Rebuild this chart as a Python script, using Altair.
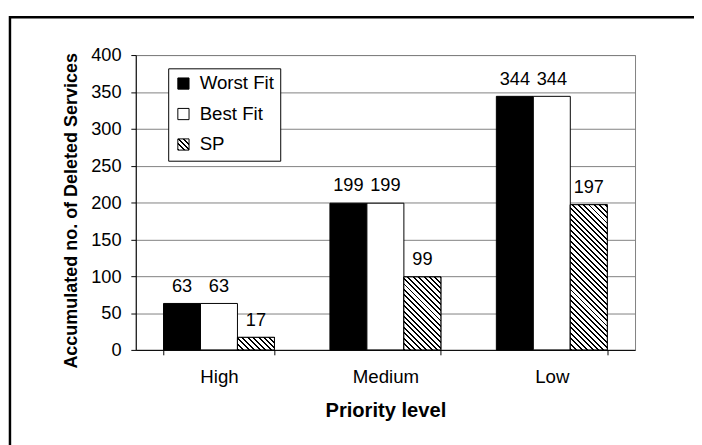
import json
import math
import altair as alt
import pandas as pd

# ---- data ----
categories = ["High", "Medium", "Low"]
series = ["Worst Fit", "Best Fit", "SP"]
worst_fit = [63, 199, 344]
best_fit = [63, 199, 344]
sp = [17, 99, 197]
y_ticks = [0, 50, 100, 150, 200, 250, 300, 350, 400]

rows = []
for i, c in enumerate(categories):
    for s, vals in zip(series, [worst_fit, best_fit, sp]):
        rows.append({"level": c, "algo": s, "count": vals[i]})
df = pd.DataFrame(rows)

# ---- layout ----
W, H = 508, 300
YMAX = 400
FONT = "Liberation Sans"
step = W / len(categories)
bar_w = step * (2 / 3) / len(series)


def hatch(w, h):
    """Diagonal '\\' hatch made from a hard-stop linear gradient (w x h px box)."""
    h = max(h, 1.0)
    s = (w + h) / (w * w + h * h)
    L = (w + h) / math.sqrt(2)
    period = 3.9
    dark = 1.4
    stops = []
    pos = 0.0
    while pos < L:
        a = pos / L
        b = min((pos + dark) / L, 1.0)
        c = min((pos + period) / L, 1.0)
        stops += [
            {"offset": round(a, 5), "color": "#000000"},
            {"offset": round(b, 5), "color": "#000000"},
            {"offset": round(b, 5), "color": "#ffffff"},
            {"offset": round(c, 5), "color": "#ffffff"},
        ]
        pos += period
    return {"gradient": "linear", "x1": 0, "y1": 1, "x2": s * w, "y2": 1 - s * h, "stops": stops}


legend_hatch = alt.ExprRef(expr=json.dumps(hatch(11.4, 11.4)))
series_colors = ["#000000", "#ffffff", legend_hatch]

x_enc = alt.X(
    "level:N",
    sort=categories,
    scale=alt.Scale(domain=categories, paddingInner=1 / 3, paddingOuter=1 / 6),
    axis=alt.Axis(
        title="Priority level",
        labelAngle=0,
        tickBand="extent",
        tickSize=5,
        tickColor="black",
        domainColor="black",
        labelFontSize=19,
        labelColor="black",
        labelPadding=13,
        titleFontSize=20.5,
        titleFontWeight="bold",
        titleColor="black",
        titleBaseline="alphabetic",
        titleY=68,
        grid=False,
    ),
)
xoff_enc = alt.XOffset("algo:N", sort=series, scale=alt.Scale(domain=series))
y_enc = alt.Y(
    "count:Q",
    scale=alt.Scale(domain=[0, YMAX], nice=False),
    axis=alt.Axis(
        title="Accumulated no. of Deleted Services",
        values=y_ticks,
        grid=True,
        gridColor="#808080",
        gridOpacity=1,
        tickSize=5,
        tickColor="black",
        domainColor="black",
        labelFontSize=18.5,
        labelColor="black",
        labelPadding=10,
        titleFontSize=18.3,
        titleFontWeight="bold",
        titleColor="black",
        titleAngle=270,
        titleAlign="center",
        titleBaseline="middle",
        titleX=-65,
        titleY=158,
    ),
)

base = alt.Chart(df)

bars = base.mark_bar(stroke="black", strokeWidth=1).encode(
    x=x_enc,
    xOffset=xoff_enc,
    y=y_enc,
    color=alt.Color(
        "algo:N",
        sort=series,
        scale=alt.Scale(domain=series, range=series_colors),
        legend=alt.Legend(
            title=None,
            orient="none",
            legendX=33,
            legendY=13.5,
            strokeColor="black",
            fillColor="white",
            padding=6,
            symbolType="square",
            symbolSize=130,
            symbolStrokeColor="black",
            symbolStrokeWidth=1,
            symbolOpacity=1,
            labelFontSize=19,
            labelColor="black",
            labelOffset=7,
            rowPadding=11,
        ),
    ),
)

hatch_layers = []
for i, c in enumerate(categories):
    hatch_layers.append(
        base.transform_filter((alt.datum.level == c) & (alt.datum.algo == "SP"))
        .mark_bar(stroke="black", strokeWidth=1)
        .encode(
            x=x_enc,
            xOffset=xoff_enc,
            y=y_enc,
            fill=alt.value(hatch(bar_w, sp[i] * H / YMAX)),
        )
    )

labels = base.mark_text(
    baseline="alphabetic", dy=-12, fontSize=18.5, color="black", font=FONT
).encode(x=x_enc, xOffset=xoff_enc, y=y_enc, text="count:Q")

frame = alt.Chart(alt.Data(values=[{}])).mark_rect(
    filled=False, stroke="black", strokeWidth=2.5
).encode(
    x=alt.value(-128), x2=alt.value(580), y=alt.value(-38.5), y2=alt.value(410)
)

chart = (
    alt.layer(frame, bars, *hatch_layers, labels)
    .properties(
        width=W,
        height=H,
        padding={"left": 130, "top": 44, "right": 60, "bottom": 100},
        autosize=alt.AutoSizeParams(type="none"),
    )
    .configure(font=FONT)
    .configure_view(stroke="#808080", strokeWidth=1)
)

chart.save("out.html", embed_options={"renderer": "svg", "actions": False})
